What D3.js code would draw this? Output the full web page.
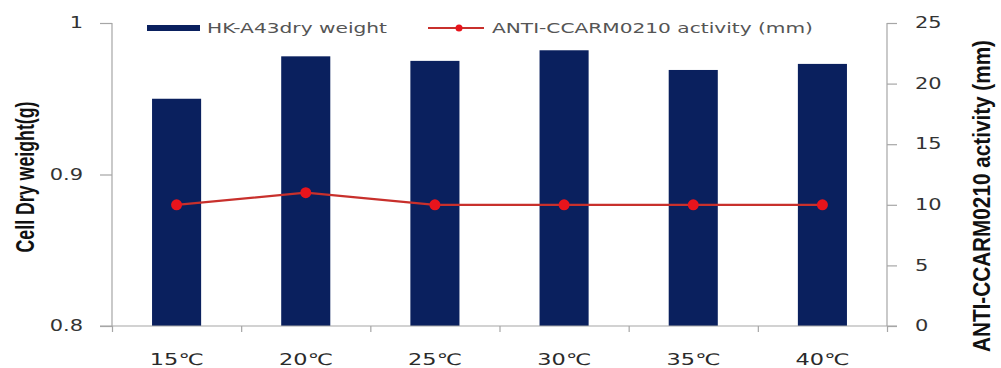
<!DOCTYPE html>
<html>
<head>
<meta charset="utf-8">
<script src="https://cdn.jsdelivr.net/npm/d3@7"></script>
<style>
  html, body { margin: 0; padding: 0; background: #fff; }
  svg { display: block; }
</style>
</head>
<body>
<svg id="chart" width="1001" height="368"></svg>
<script>
// Growth temperature vs. dry cell weight and antibacterial activity
const temperatures = ["15℃", "20℃", "25℃", "30℃", "35℃", "40℃"];
const dryWeight = [0.950, 0.978, 0.975, 0.982, 0.969, 0.973];   // g
const activity = [10, 11, 10, 10, 10, 10];                      // mm
const leftTicks = [0.8, 0.9, 1];
const leftTickLabels = ["0.8", "0.9", "1"];
const rightTicks = [0, 5, 10, 15, 20, 25];
const barName = "HK-A43dry weight";
const lineName = "ANTI-CCARM0210 activity (mm)";
const leftTitle = "Cell Dry weight(g)";
const rightTitle = "ANTI-CCARM0210 activity (mm)";

const W = 1001, H = 368;
const plot = { left: 112, right: 887, top: 23, bottom: 326 };
const SX = 1.4;                 // horizontal stretch applied to text
const FONT = "'DejaVu Sans', Verdana, sans-serif";
const BAR = "#0a205e";
const AXIS = "#a6a6a6";

const svg = d3.select("#chart");

const x = d3.scaleBand()
  .domain(temperatures)
  .range([plot.left, plot.right])
  .paddingInner(0.62)
  .paddingOuter(0.31);
const yL = d3.scaleLinear().domain([0.8, 1]).range([plot.bottom, plot.top]);
const yR = d3.scaleLinear().domain([0, 25]).range([plot.bottom, plot.top]);

// stretched horizontal text helper
function stext(g, px, py, str, opts) {
  return g.append("text")
    .attr("transform", `translate(${px},${py}) scale(${SX},1)`)
    .attr("text-anchor", opts.anchor || "start")
    .attr("dominant-baseline", opts.baseline || "auto")
    .attr("font-family", FONT)
    .attr("font-size", opts.size || 15)
    .attr("fill", opts.fill || "#404040")
    .text(str);
}

// bars
svg.append("g").selectAll("rect")
  .data(temperatures)
  .join("rect")
  .attr("x", d => x(d))
  .attr("width", x.bandwidth())
  .attr("y", (d, i) => yL(dryWeight[i]))
  .attr("height", (d, i) => yL(0.8) - yL(dryWeight[i]))
  .attr("fill", BAR);

// left axis
const gL = svg.append("g").attr("transform", `translate(${plot.left},0)`)
  .call(d3.axisLeft(yL).tickValues(leftTicks).tickSize(12).tickFormat(""));
// right axis
const gR = svg.append("g").attr("transform", `translate(${plot.right},0)`)
  .call(d3.axisRight(yR).tickValues(rightTicks).tickSize(10).tickFormat(""));
// bottom axis: ticks at category boundaries
const boundaries = d3.range(temperatures.length + 1)
  .map(i => plot.left + i * x.step());
const xB = d3.scaleLinear().domain([plot.left, plot.right]).range([plot.left, plot.right]);
const gB = svg.append("g").attr("transform", `translate(0,${plot.bottom})`)
  .call(d3.axisBottom(xB).tickValues(boundaries).tickSize(6).tickFormat("").tickSizeOuter(0));
[gL, gR, gB].forEach(g => {
  g.selectAll("path, line").attr("stroke", AXIS).attr("stroke-width", 1.2);
});
gL.select("path.domain").attr("d", `M0,${plot.top}V${plot.bottom}`);
gR.select("path.domain").attr("d", `M0,${plot.top}V${plot.bottom}`);
gB.select("path.domain").attr("d", `M${plot.left - 12},0H${plot.right + 10}`);

// tick labels
const labels = svg.append("g");
leftTicks.forEach((v, i) => {
  stext(labels, 83, yL(v) + 1, leftTickLabels[i], { anchor: "end", baseline: "middle", size: 15, fill: "#333" });
});
rightTicks.forEach(v => {
  stext(labels, 915, yR(v) + 1, String(v), { anchor: "start", baseline: "middle", size: 15, fill: "#333" });
});
temperatures.forEach(t => {
  stext(labels, x(t) + x.bandwidth() / 2, 365, t, { anchor: "middle", size: 16, fill: "#2a2a2a" });
});

// axis titles (rotated)
svg.append("text")
  .attr("transform", `translate(34,177) rotate(-90)`)
  .attr("text-anchor", "middle")
  .attr("font-family", "'Liberation Sans', Arial, sans-serif")
  .attr("font-weight", "bold")
  .attr("font-size", 25)
  .attr("textLength", 151)
  .attr("lengthAdjust", "spacingAndGlyphs")
  .attr("fill", "#111")
  .text(leftTitle);
svg.append("text")
  .attr("transform", `translate(990,196) rotate(-90)`)
  .attr("text-anchor", "middle")
  .attr("font-family", "'Liberation Sans', Arial, sans-serif")
  .attr("font-weight", "bold")
  .attr("font-size", 23)
  .attr("textLength", 312)
  .attr("lengthAdjust", "spacingAndGlyphs")
  .attr("fill", "#111")
  .text(rightTitle);

// activity line
const line = d3.line()
  .x((d, i) => x(temperatures[i]) + x.bandwidth() / 2)
  .y(d => yR(d));
svg.append("path")
  .datum(activity)
  .attr("d", line)
  .attr("fill", "none")
  .attr("stroke", "#c8302c")
  .attr("stroke-width", 2.2);
svg.append("g").selectAll("circle")
  .data(activity)
  .join("circle")
  .attr("cx", (d, i) => x(temperatures[i]) + x.bandwidth() / 2)
  .attr("cy", d => yR(d))
  .attr("r", 5.5)
  .attr("fill", "#e8141c");

// legend
const lg = svg.append("g");
lg.append("rect").attr("x", 147).attr("y", 25).attr("width", 53).attr("height", 6).attr("fill", BAR);
lg.append("text")
  .attr("x", 207).attr("y", 33)
  .attr("font-family", FONT).attr("font-size", 14)
  .attr("textLength", 180).attr("lengthAdjust", "spacingAndGlyphs")
  .attr("fill", "#555").text(barName);
lg.append("line").attr("x1", 428).attr("x2", 484).attr("y1", 28).attr("y2", 28)
  .attr("stroke", "#c8302c").attr("stroke-width", 2.2);
lg.append("circle").attr("cx", 459).attr("cy", 28).attr("r", 3.5).attr("fill", "#e8141c");
lg.append("text")
  .attr("x", 492).attr("y", 33)
  .attr("font-family", FONT).attr("font-size", 14)
  .attr("textLength", 321).attr("lengthAdjust", "spacingAndGlyphs")
  .attr("fill", "#555").text(lineName);
</script>
</body>
</html>
